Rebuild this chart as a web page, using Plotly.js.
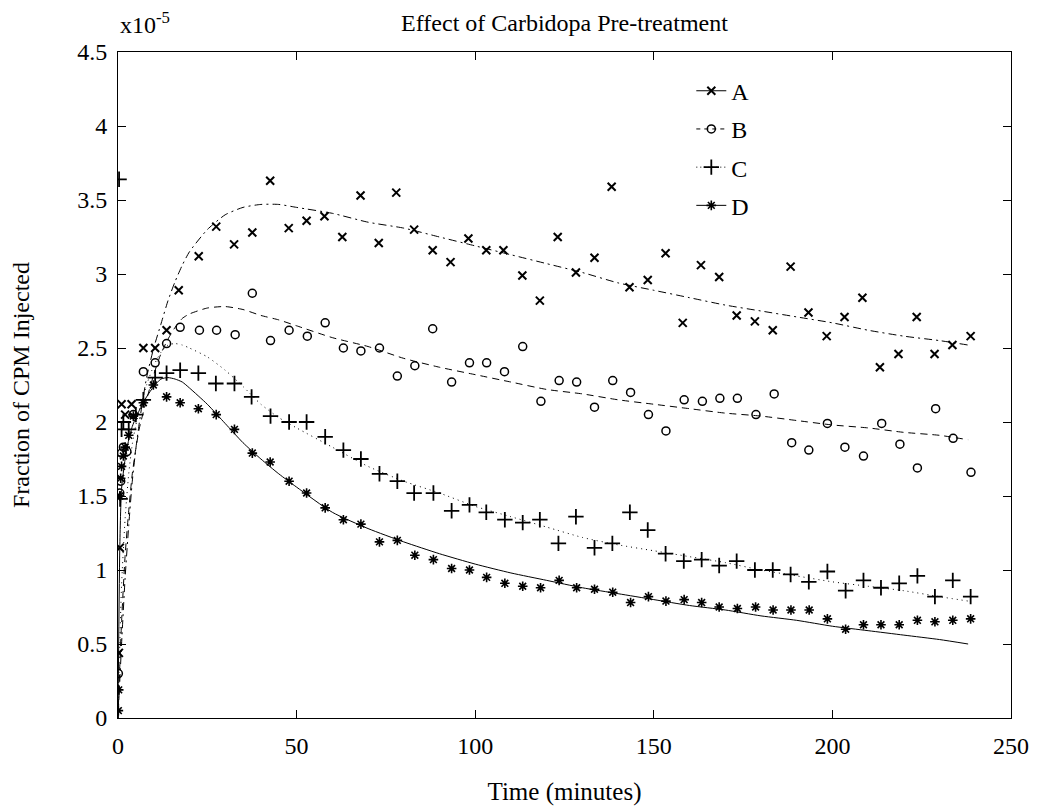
<!DOCTYPE html>
<html><head><meta charset="utf-8">
<script src="https://cdn.plot.ly/plotly-3.0.1.min.js"></script>
<style>html,body{margin:0;padding:0;background:#fff}#chart{width:1040px;height:806px}</style>
</head><body><div id="chart"></div>
<script>
// Measured points (time in minutes, value in units of 1e-5)
const timeA = [0.25,0.5,1,2,3.8,7.1,10.4,13.6,17,22.6,27.5,32.5,37.6,42.6,47.8,52.8,57.8,62.8,67.9,73.0,77.9,82.9,88.1,93.1,98.1,103.1,107.9,113.2,118.1,123.1,128.2,133.4,138.2,143.2,148.3,153.3,158.1,163.2,168.3,173.2,178.3,183.3,188.3,193.3,198.4,203.4,208.4,213.3,218.5,223.6,228.6,233.6,238.7];
const valA = [0.44,1.15,2.12,2.05,2.12,2.50,2.50,2.62,2.89,3.12,3.32,3.20,3.28,3.63,3.31,3.36,3.39,3.25,3.53,3.21,3.55,3.30,3.16,3.08,3.24,3.16,3.16,2.99,2.82,3.25,3.01,3.11,3.59,2.91,2.96,3.14,2.67,3.06,2.98,2.72,2.68,2.62,3.05,2.74,2.58,2.71,2.84,2.37,2.46,2.71,2.46,2.52,2.58];

const timeB = [0.1,0.5,0.75,1,1.5,2.5,4.3,7.1,10.4,13.6,17.4,22.8,27.6,32.8,37.6,42.7,47.9,53,58,63.1,68,73.2,78.2,83.1,88.1,93.4,98.4,103.2,108.2,113.3,118.4,123.5,128.4,133.4,138.5,143.5,148.5,153.4,158.5,163.6,168.5,173.4,178.6,183.7,188.6,193.4,198.6,203.5,208.7,213.8,218.9,223.8,228.9,233.8,238.8];
const valB = [0.30,1.52,1.60,1.79,1.83,1.80,2.05,2.34,2.40,2.53,2.64,2.62,2.62,2.59,2.87,2.55,2.62,2.58,2.67,2.50,2.48,2.50,2.31,2.38,2.63,2.27,2.40,2.40,2.34,2.51,2.14,2.28,2.27,2.10,2.28,2.20,2.05,1.94,2.15,2.14,2.16,2.16,2.05,2.19,1.86,1.81,1.99,1.83,1.77,1.99,1.85,1.69,2.09,1.89,1.66];

const timeC = [0.3,0.6,1,1.5,3,5,7.1,10.4,13.6,17.4,22.5,27.4,32.6,37.4,42.7,47.9,52.8,58,63.1,68,73.2,78.2,82.9,88.3,93.4,98.4,103.1,108.3,113.3,118.1,123.3,128.2,133.4,138.4,143.3,148.3,153.3,158.4,163.4,168.3,173.2,178.3,183.3,188.3,193.4,198.6,203.7,208.7,213.6,218.7,223.8,228.7,233.7,238.7];
const valC = [3.64,1.48,1.95,2.00,1.95,2.05,2.15,2.30,2.33,2.35,2.33,2.26,2.26,2.17,2.04,2.00,2.00,1.90,1.81,1.75,1.65,1.60,1.52,1.52,1.40,1.44,1.39,1.34,1.32,1.34,1.18,1.36,1.15,1.18,1.39,1.27,1.11,1.06,1.07,1.03,1.06,1.00,1.00,0.97,0.92,0.99,0.86,0.93,0.88,0.91,0.96,0.82,0.93,0.82];

const timeD = [0.1,0.2,0.5,0.75,1,1.5,2,3,4.3,7.1,9.9,13.6,17.4,22.5,27.5,32.6,37.6,42.6,47.9,52.8,58,63.1,68,73.2,78.2,83.1,88.3,93.4,98.4,103.2,108.3,113.3,118.3,123.5,128.4,133.4,138.5,143.5,148.5,153.4,158.5,163.4,168.3,173.4,178.5,183.4,188.4,193.5,198.6,203.7,208.7,213.6,218.7,223.8,228.7,233.7,238.7];
const valD = [0.05,0.19,1.50,1.62,1.70,1.77,1.83,1.91,2.04,2.13,2.25,2.17,2.13,2.09,2.05,1.95,1.79,1.73,1.60,1.52,1.42,1.34,1.31,1.19,1.20,1.10,1.07,1.01,1.00,0.95,0.91,0.89,0.88,0.93,0.88,0.87,0.85,0.78,0.82,0.79,0.80,0.78,0.75,0.74,0.75,0.73,0.73,0.73,0.67,0.60,0.63,0.63,0.63,0.66,0.65,0.66,0.67];

// Fitted curves
const fitTime = [0,0.5,1,2,3,4,5,6,8,10,12,14,16,18,20,25,30,35,40,45,50,60,70,80,90,100,110,120,130,140,150,160,170,180,190,200,210,220,230,238];
const fitA = [0,0.25,0.5,0.95,1.3,1.6,1.82,2.0,2.3,2.5,2.66,2.82,2.95,3.06,3.15,3.30,3.40,3.45,3.47,3.47,3.45,3.41,3.35,3.31,3.25,3.19,3.13,3.07,3.01,2.94,2.89,2.84,2.79,2.75,2.71,2.67,2.62,2.58,2.55,2.52];
const fitB = [0,0.35,0.65,1.1,1.4,1.65,1.82,1.96,2.15,2.32,2.46,2.56,2.64,2.70,2.73,2.77,2.78,2.76,2.72,2.69,2.65,2.57,2.51,2.43,2.37,2.32,2.27,2.22,2.19,2.15,2.12,2.09,2.06,2.04,2.01,1.98,1.96,1.93,1.91,1.88];
const fitC = [0,0.5,0.9,1.35,1.65,1.85,1.98,2.08,2.25,2.38,2.47,2.52,2.53,2.52,2.50,2.44,2.35,2.24,2.12,2.03,1.96,1.83,1.70,1.60,1.52,1.43,1.36,1.29,1.22,1.17,1.13,1.09,1.05,1.00,0.96,0.92,0.89,0.86,0.82,0.79];
const fitD = [0,1.15,1.55,1.75,1.88,1.97,2.03,2.08,2.17,2.24,2.29,2.30,2.29,2.27,2.23,2.12,1.99,1.86,1.75,1.65,1.56,1.39,1.28,1.19,1.11,1.04,0.98,0.93,0.88,0.84,0.80,0.76,0.73,0.69,0.66,0.62,0.59,0.56,0.53,0.50];

const seriesNames = ['A','B','C','D'];
const yTickVals = [0,0.5,1,1.5,2,2.5,3,3.5,4,4.5];
const yTickText = ['0','0.5','1','1.5','2','2.5','3','3.5','4','4.5'];
const xTickVals = [0,50,100,150,200,250];

const FONT = '"Liberation Serif", "DejaVu Serif", serif';
const pts = [[timeA,valA],[timeB,valB],[timeC,valC],[timeD,valD]];
const fits = [fitA,fitB,fitC,fitD];
const markers = [
  {symbol:'x-thin-open', size:8, color:'#000', line:{color:'#000', width:2}},
  {symbol:'circle-open', size:8, color:'#000', line:{color:'#000', width:1.5}},
  {symbol:'cross-thin-open', size:11, color:'#000', line:{color:'#000', width:1.8}},
  {symbol:'asterisk-open', size:8, color:'#000', line:{color:'#000', width:1.6}}
];
const fitDash = ['8px,4px,2px,4px','7px,5px','1px,4px','solid'];
const legDash = ['solid','4px,4px','1px,3px','solid'];

const traces = [];
for (let i=0;i<4;i++){
  traces.push({x:fitTime, y:fits[i], mode:'lines', type:'scatter', showlegend:false,
    line:{color:'#000', width:1, dash:fitDash[i], shape:'spline', smoothing:0.6}, hoverinfo:'skip'});
  traces.push({x:pts[i][0], y:pts[i][1], mode:'markers', type:'scatter', showlegend:false,
    marker:markers[i]});
}
for (let i=0;i<4;i++){
  traces.push({x:[null], y:[null], mode:'lines+markers', type:'scatter', name:seriesNames[i],
    legendgroup:'g'+i, line:{color:'#000', width:1, dash:legDash[i]}, marker:markers[i]});
}

const layout = {
  width:1040, height:806,
  margin:{l:118, r:29, t:52, b:88},
  paper_bgcolor:'#fff', plot_bgcolor:'#fff',
  font:{family:FONT, color:'#000', size:24},
  title:{text:'Effect of Carbidopa Pre-treatment', font:{family:FONT, size:24, color:'#000'},
    x:0.5, xref:'paper', xanchor:'center', y:0.972, yref:'container', yanchor:'middle'},
  xaxis:{range:[0,250], tickvals:xTickVals, ticks:'inside', ticklen:8, tickcolor:'#000',
    showline:true, linecolor:'#000', linewidth:1, mirror:'allticks', showgrid:false, zeroline:false,
    tickfont:{family:FONT, size:24}, ticklabelstandoff:6,
    title:{text:'Time (minutes)', font:{family:FONT, size:25}, standoff:26}},
  yaxis:{range:[0,4.5], tickvals:yTickVals, ticktext:yTickText, ticks:'inside', ticklen:8, tickcolor:'#000',
    showline:true, linecolor:'#000', linewidth:1, mirror:'allticks', showgrid:false, zeroline:false,
    tickfont:{family:FONT, size:24}, ticklabelstandoff:5,
    title:{text:'Fraction of CPM Injected', font:{family:FONT, size:24}, standoff:40}},
  legend:{x:0.642, y:0.975, xanchor:'left', yanchor:'top', bgcolor:'rgba(0,0,0,0)',
    borderwidth:0, font:{family:FONT, size:24}, traceorder:'grouped', tracegroupgap:4},
  annotations:[{text:'x10<sup>-5</sup>', xref:'paper', yref:'paper', x:0, y:1.044,
    xanchor:'left', yanchor:'middle', showarrow:false, font:{family:FONT, size:24}}],
  showlegend:true
};
Plotly.newPlot('chart', traces, layout, {displayModeBar:false, staticPlot:true});
</script></body></html>
